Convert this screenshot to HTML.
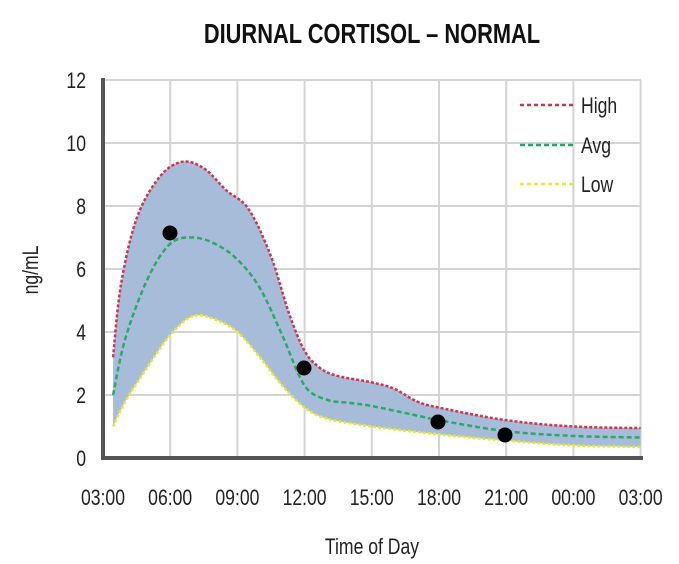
<!DOCTYPE html>
<html><head><meta charset="utf-8"><style>
html,body{margin:0;padding:0;background:#fff;}
svg{display:block;font-family:"Liberation Sans",sans-serif;}
</style></head><body>
<svg id="s" width="679" height="564" viewBox="0 0 679 564" xmlns="http://www.w3.org/2000/svg">
<text x="372" y="43" text-anchor="middle" font-size="28" font-weight="bold" fill="#111" transform="translate(372 0) scale(0.78 1) translate(-372 0)">DIURNAL CORTISOL – NORMAL</text>
<g id="grid" stroke="#d4d4d4" stroke-width="2"></g>
<g id="plot"></g>
<line x1="103" y1="78" x2="103" y2="460" stroke="#555" stroke-width="4"/>
<line x1="101" y1="458" x2="643" y2="458" stroke="#555" stroke-width="4"/>
<g id="lbl" font-size="22" fill="#222"></g>
<text x="372" y="554" text-anchor="middle" font-size="22" fill="#222" transform="translate(372 0) scale(0.8 1) translate(-372 0)">Time of Day</text>
<text transform="translate(38 270) rotate(-90) scale(0.8 1)" text-anchor="middle" font-size="22" fill="#222">ng/mL</text>
<g font-size="22" fill="#222">
<line x1="520" y1="105" x2="574" y2="105" stroke="#d0334e" stroke-width="2.5" stroke-dasharray="4 3"/>
<text x="581" y="113" transform="translate(581 0) scale(0.8 1) translate(-581 0)">High</text>
<line x1="520" y1="145" x2="574" y2="145" stroke="#2aa86a" stroke-width="2.5" stroke-dasharray="5 3"/>
<text x="581" y="153" transform="translate(581 0) scale(0.8 1) translate(-581 0)">Avg</text>
<line x1="520" y1="184" x2="574" y2="184" stroke="#e8e830" stroke-width="2.5" stroke-dasharray="4 3"/>
<text x="581" y="192" transform="translate(581 0) scale(0.8 1) translate(-581 0)">Low</text>
</g>
</svg>
<script>
var NS="http://www.w3.org/2000/svg";
function X(t){return 103+t*22.4;}
function Y(v){return 458-31.5*v;}
function el(p,n,a,txt){var e=document.createElementNS(NS,n);for(var k in a)e.setAttribute(k,a[k]);if(txt!=null)e.textContent=txt;p.appendChild(e);return e;}
var g=document.getElementById('grid');
for(var v=2;v<=12;v+=2)el(g,'line',{x1:103,x2:641,y1:Y(v),y2:Y(v)});
for(var t=3;t<=24;t+=3)el(g,'line',{x1:X(t),x2:X(t),y1:Y(12),y2:458});
var L=document.getElementById('lbl');
for(var v=0;v<=12;v+=2){var x=86;el(L,'text',{x:x,y:Y(v)+8,'text-anchor':'end',transform:'translate('+x+' 0) scale(0.8 1) translate('+(-x)+' 0)'},String(v));}
var labs=['03:00','06:00','09:00','12:00','15:00','18:00','21:00','00:00','03:00'];
for(var i=0;i<9;i++){var x=X(i*3);el(L,'text',{x:x,y:505,'text-anchor':'middle',transform:'translate('+x+' 0) scale(0.8 1) translate('+(-x)+' 0)'},labs[i]);}
var hi=[[0.45,3.2],[0.8,5.5],[1.5,7.6],[2.5,8.9],[3.5,9.4],[4.5,9.2],[5.5,8.5],[6.5,7.9],[7.5,6.4],[8.3,4.6],[9,3.4],[9.7,2.85],[10.5,2.6],[12,2.4],[13,2.2],[14,1.8],[15,1.6],[18,1.2],[21,1.0],[24,0.95]];
var av=[[0.45,2.0],[1,3.8],[2,5.7],[3,6.8],[4,7.0],[5,6.8],[6,6.3],[7,5.4],[8,3.9],[9,2.3],[10,1.85],[11,1.75],[12,1.65],[14,1.35],[15,1.2],[18,0.85],[21,0.7],[24,0.65]];
var lo=[[0.45,1.0],[1,1.8],[2,2.9],[3,3.9],[4,4.5],[5,4.4],[6,4.0],[7,3.2],[8,2.3],[9,1.6],[10,1.25],[12,1.0],[15,0.75],[18,0.55],[21,0.4],[24,0.35]];
function pts(a){return a.map(function(p){return [X(p[0]),Y(p[1])];});}
function cr(P,start){var d=start?'M'+P[0][0]+','+P[0][1]:'L'+P[0][0]+','+P[0][1];
for(var i=0;i<P.length-1;i++){var p0=P[i-1]||P[i],p1=P[i],p2=P[i+1],p3=P[i+2]||p2;
d+=' C'+(p1[0]+(p2[0]-p0[0])/6)+','+(p1[1]+(p2[1]-p0[1])/6)+' '+(p2[0]-(p3[0]-p1[0])/6)+','+(p2[1]-(p3[1]-p1[1])/6)+' '+p2[0]+','+p2[1];}return d;}
var P=document.getElementById('plot');
var H=pts(hi),A=pts(av),Lw=pts(lo);
el(P,'path',{d:cr(H,true)+' '+cr(Lw.slice().reverse(),false)+'Z',fill:'#a7bcd9'});
el(P,'path',{d:cr(H,true),fill:'none',stroke:'#d0334e','stroke-width':2.5,'stroke-dasharray':'3 2'});
el(P,'path',{d:cr(A,true),fill:'none',stroke:'#2aa86a','stroke-width':2.5,'stroke-dasharray':'5 3'});
el(P,'path',{d:cr(Lw,true),fill:'none',stroke:'#e8e830','stroke-width':2.5,'stroke-dasharray':'3 2'});
[[170,233],[304,368],[438,422],[505,435]].forEach(function(c){el(P,'circle',{cx:c[0],cy:c[1],r:7.5,fill:'#000'});});
</script>
</body></html>
